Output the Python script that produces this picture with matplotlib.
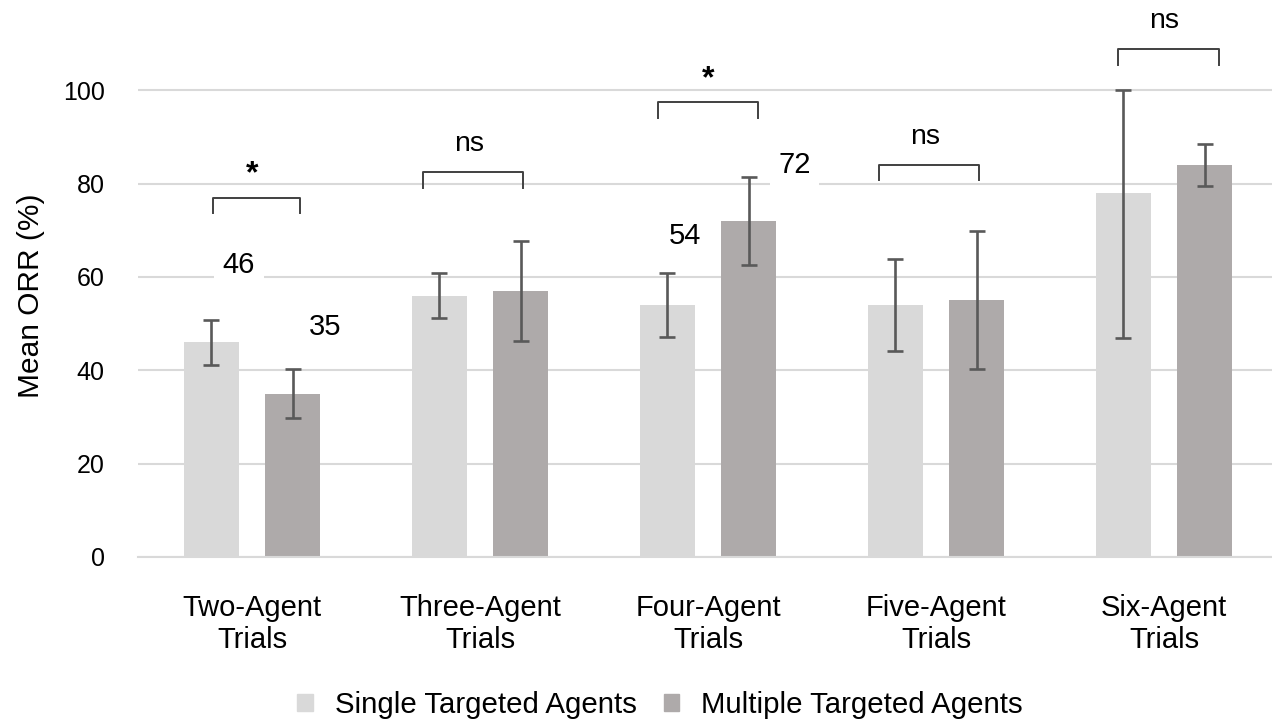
import matplotlib.pyplot as plt
import numpy as np
from matplotlib.patches import Patch

plt.rcParams['font.family'] = ['Liberation Sans', 'DejaVu Sans']

categories = ['Two-Agent\nTrials', 'Three-Agent\nTrials', 'Four-Agent\nTrials',
              'Five-Agent\nTrials', 'Six-Agent\nTrials']
single_vals = [46, 56, 54, 54, 78]
single_err_low = [4.8, 4.8, 6.8, 9.9, 31]
single_err_high = [4.8, 4.8, 6.8, 9.8, 22]
multi_vals = [35, 57, 72, 55, 84]
multi_err = [5.2, 10.7, 9.5, 14.8, 4.5]
sig_labels = ['*', 'ns', '*', 'ns', 'ns']
bracket_tops = [77, 82.4, 97.4, 84, 108.8]
value_labels = [(0, 'single', '46'), (0, 'multi', '35'), (2, 'single', '54'), (2, 'multi', '72')]

c_single = '#d9d9d9'
c_multi = '#aeaaaa'
c_err = '#595959'

fig = plt.figure(figsize=(12.72, 7.22), dpi=100)
ax = fig.add_axes([138 / 1272, 165 / 722, 1140 / 1272, 560 / 722])

x = np.arange(len(categories))
w = 0.24
off = 0.178

ax.bar(x - off, single_vals, w, color=c_single, zorder=2)
ax.bar(x + off, multi_vals, w, color=c_multi, zorder=2)
ax.errorbar(x - off, single_vals, yerr=[single_err_low, single_err_high], fmt='none',
            ecolor=c_err, elinewidth=1.9, capsize=5.5, capthick=1.9, zorder=3)
ax.errorbar(x + off, multi_vals, yerr=multi_err, fmt='none',
            ecolor=c_err, elinewidth=1.9, capsize=5.5, capthick=1.9, zorder=3)

# brackets and significance marks
br_left = [-0.17, -0.25, -0.22, -0.25, -0.20]
br_right = [0.21, 0.19, 0.22, 0.19, 0.24]
txt_dx = [0, -0.05, 0, -0.05, 0]
for i, lab in enumerate(sig_labels):
    top = bracket_tops[i]
    ax.plot([i + br_left[i], i + br_left[i], i + br_right[i], i + br_right[i]],
            [top - 3.3, top, top, top - 3.3], color='#404040', lw=1.4, zorder=4)
    if lab == '*':
        ax.text(i + txt_dx[i], top + 1.8, lab, ha='center', va='bottom', fontsize=23,
                fontweight='bold', zorder=4)
    else:
        ax.text(i + txt_dx[i], top + 3.3, lab, ha='center', va='bottom', fontsize=20.5, zorder=4)

label_pos = {('single', 0): (-0.057, 62.5), ('multi', 0): (0.32, 49.2),
             ('single', 2): (-0.10, 68.7), ('multi', 2): (0.38, 84.0)}
for i, kind, txt in value_labels:
    dx, yv = label_pos[(kind, i)]
    ax.text(i + dx, yv, txt, ha='center', va='center', fontsize=21, zorder=4,
            bbox=dict(facecolor='white', edgecolor='none', pad=6))

ax.set_xlim(-0.5, 4.5)
ax.set_ylim(0, 120)
ax.set_yticks([0, 20, 40, 60, 80, 100])
ax.set_xticks(x)
ax.set_xticklabels(categories, fontsize=21, linespacing=1.17)
ax.tick_params(axis='x', length=0, pad=27)
ax.tick_params(axis='y', length=0, pad=24, labelsize=18)
ax.grid(axis='y', color='#d9d9d9', lw=1.5, zorder=0)
ax.set_axisbelow(True)
for s in ['top', 'right', 'left']:
    ax.spines[s].set_visible(False)
ax.spines['bottom'].set_color('#d9d9d9')
ax.spines['bottom'].set_linewidth(1.5)

ax.set_ylabel('Mean ORR (%)', fontsize=21.5)
ax.yaxis.set_label_coords(-0.082, 0.466)

handles = [Patch(color=c_single, label='Single Targeted Agents'),
           Patch(color=c_multi, label='Multiple Targeted Agents')]
fig.legend(handles=handles, loc='center', bbox_to_anchor=(0.519, 0.0235), ncol=2,
           frameon=False, fontsize=21.2, handlelength=0.54, handleheight=0.54,
           handletextpad=0.74, columnspacing=0.9)

fig.savefig('out.png', dpi=100)
